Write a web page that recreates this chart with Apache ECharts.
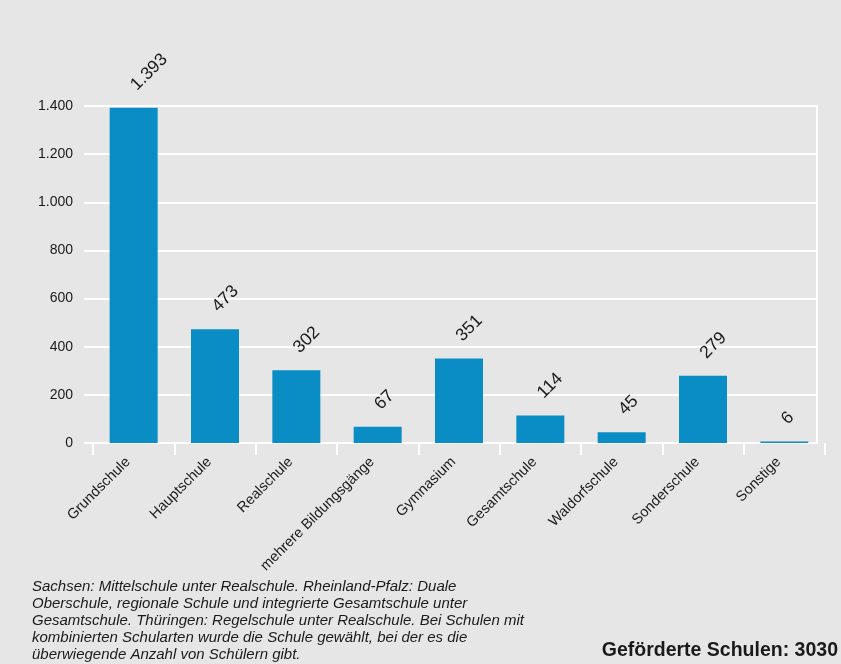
<!DOCTYPE html>
<html>
<head>
<meta charset="utf-8">
<script src="https://cdn.jsdelivr.net/npm/echarts@6/dist/echarts.min.js"></script>
<style>
  html, body { margin: 0; padding: 0; background: #e6e6e6; }
  #chart { width: 841px; height: 664px; }
</style>
</head>
<body>
<div id="chart"></div>
<script>
// Schularten und Anzahl der geförderten Schulen
const categories = ['Grundschule', 'Hauptschule', 'Realschule', 'mehrere Bildungsgänge',
  'Gymnasium', 'Gesamtschule', 'Waldorfschule', 'Sonderschule', 'Sonstige'];
const schools = [1393, 473, 302, 67, 351, 114, 45, 279, 6];
const yTicks = [0, 200, 400, 600, 800, 1000, 1200, 1400];

const footnote = [
  'Sachsen: Mittelschule unter Realschule. Rheinland-Pfalz: Duale',
  'Oberschule, regionale Schule und integrierte Gesamtschule unter',
  'Gesamtschule. Thüringen: Regelschule unter Realschule. Bei Schulen mit',
  'kombinierten Schularten wurde die Schule gewählt, bei der es die',
  'überwiegende Anzahl von Schülern gibt.'
].join('\n');
const totalText = 'Geförderte Schulen: 3030';

const fmt = v => v.toLocaleString('de-DE');
const FONT = 'Liberation Sans, Arial, sans-serif';
const yMin = yTicks[0], yMax = yTicks[yTicks.length - 1];

const chart = echarts.init(document.getElementById('chart'));
chart.setOption({
  backgroundColor: '#e6e6e6',
  animation: false,
  textStyle: { fontFamily: FONT },
  grid: [
    // bars
    { left: 93, right: 16, top: 106, bottom: 221 },
    // value scale, gridlines and frame
    { left: 84, right: 24, top: 106, bottom: 221 }
  ],
  xAxis: [
    {
      gridIndex: 0,
      type: 'category',
      data: categories,
      axisLine: { show: false },
      axisTick: { show: true, length: 12, lineStyle: { color: '#ffffff', width: 2 } },
      axisLabel: {
        rotate: 45, interval: 0, color: '#1a1a1a', fontSize: 14.5, margin: 11,
        padding: [0, 8, 0, 0]
      }
    },
    { gridIndex: 1, type: 'value', show: false }
  ],
  yAxis: [
    {
      gridIndex: 0, type: 'value', min: yMin, max: yMax, interval: 200,
      axisLine: { show: false }, axisTick: { show: false },
      axisLabel: { show: false }, splitLine: { show: false }
    },
    {
      gridIndex: 1, type: 'value', min: yMin, max: yMax, interval: 200,
      axisLine: { show: false }, axisTick: { show: false },
      axisLabel: { color: '#1a1a1a', fontSize: 14, margin: 11, formatter: fmt },
      splitLine: { lineStyle: { color: '#ffffff', width: 2 } }
    },
    {
      gridIndex: 1, type: 'value', position: 'right', min: yMin, max: yMax,
      axisLine: { show: true, lineStyle: { color: '#ffffff', width: 2 } },
      axisTick: { show: false }, axisLabel: { show: false }, splitLine: { show: false }
    }
  ],
  series: [{
    type: 'bar',
    xAxisIndex: 0,
    yAxisIndex: 0,
    data: schools,
    barWidth: 48,
    itemStyle: { color: '#0a8dc4' },
    label: {
      show: true,
      position: 'top',
      distance: 20,
      rotate: 45,
      align: 'left',
      verticalAlign: 'middle',
      color: '#1a1a1a',
      fontSize: 17.5,
      formatter: p => fmt(p.value)
    }
  }],
  graphic: [
    {
      type: 'text', left: 32, top: 578,
      style: {
        text: footnote, fill: '#1a1a1a', fontSize: 15, fontStyle: 'italic',
        lineHeight: 17, fontFamily: FONT
      }
    },
    {
      type: 'text', right: 3, top: 641,
      style: {
        text: totalText, fill: '#1a1a1a', fontSize: 19.5, fontWeight: 'bold',
        fontFamily: FONT
      }
    }
  ]
});
</script>
</body>
</html>
